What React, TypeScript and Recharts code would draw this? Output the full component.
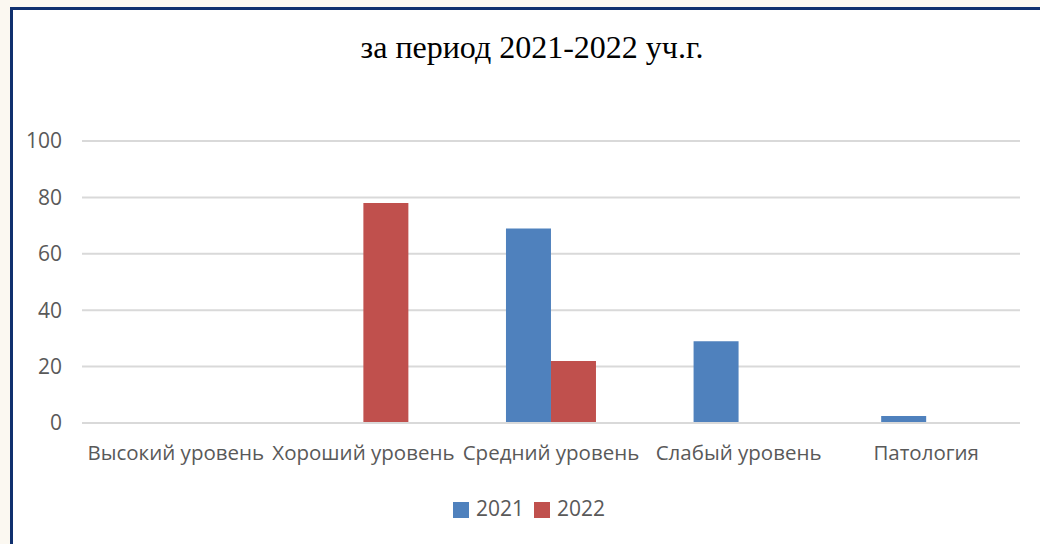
import { BarChart, Bar, XAxis, YAxis, CartesianGrid, Legend } from "recharts";

const categories = ["Высокий уровень", "Хороший уровень", "Средний уровень", "Слабый уровень", "Патология"];
const values2021 = [0, 0, 69, 29, 2.5];
const values2022 = [0, 78, 22, 0, 0];
const yTicks = [0, 20, 40, 60, 80, 100];

const data = categories.map((name, i) => ({
  name,
  y2021: values2021[i],
  y2022: values2022[i],
}));

const font = "'Open Sans', 'Noto Sans', sans-serif";

export default function App() {
  return (
    <div style={{ position: "fixed", inset: 0, background: "#fbf8f1", overflow: "hidden" }}>
      <div
        style={{
          position: "absolute",
          left: 10,
          top: 7,
          width: 1100,
          height: 600,
          background: "#ffffff",
          borderLeft: "3px solid #10306e",
          borderTop: "3px solid #10306e",
        }}
      />
      <div
        style={{
          position: "absolute",
          left: 0,
          top: 29,
          width: 1064,
          textAlign: "center",
          fontFamily: "'Liberation Serif', 'Times New Roman', serif",
          fontSize: 32,
          color: "#000",
        }}
      >
        за период 2021-2022 уч.г.
      </div>
      <div style={{ position: "absolute", left: 0, top: 0 }}>
        <BarChart
          width={1040}
          height={544}
          data={data}
          margin={{ top: 141, right: 20, left: 0, bottom: 53 }}
          barCategoryGap="26%"
          barGap={0}
        >
          <CartesianGrid vertical={false} stroke="#d9d9d9" strokeWidth={2} />
          <XAxis
            dataKey="name"
            height={40}
            tickLine={false}
            axisLine={{ stroke: "#d9d9d9", strokeWidth: 2 }}
            tickMargin={16}
            interval={0}
            tick={{ fill: "#595959", fontSize: 20.5, fontFamily: font }}
          />
          <YAxis
            width={82}
            domain={[0, 100]}
            ticks={yTicks}
            axisLine={false}
            tickLine={false}
            tickMargin={14}
            tick={{ fill: "#595959", fontSize: 21, fontFamily: font }}
          />
          <Legend
            iconType="square"
            iconSize={16}
            wrapperStyle={{
              top: 494,
              bottom: "auto",
              left: 24,
              fontFamily: font,
              fontSize: 21,
            }}
            formatter={(value) => (
              <span style={{ color: "#595959", marginLeft: 3 }}>{value}</span>
            )}
          />
          <Bar dataKey="y2021" name="2021" fill="#4f81bd" isAnimationActive={false} />
          <Bar dataKey="y2022" name="2022" fill="#c0504d" isAnimationActive={false} />
        </BarChart>
      </div>
    </div>
  );
}
